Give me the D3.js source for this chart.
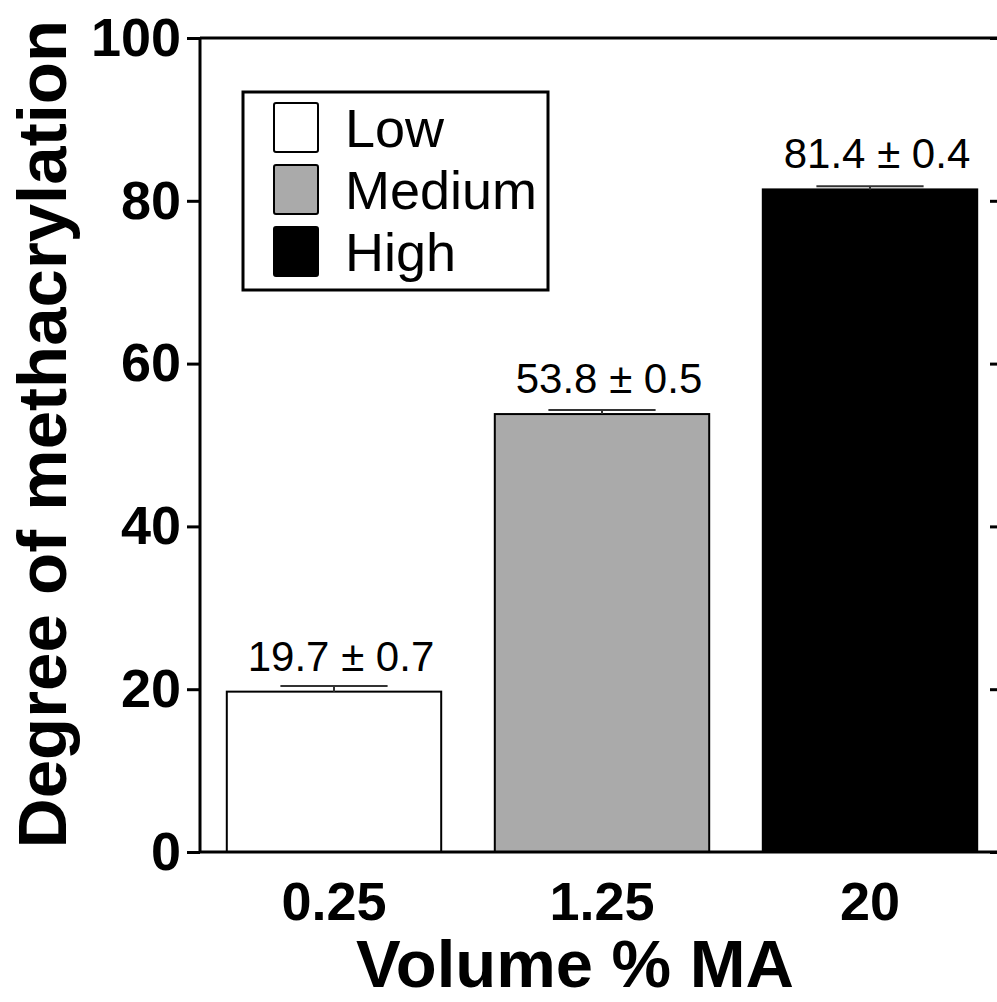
<!DOCTYPE html>
<html>
<head>
<meta charset="utf-8">
<script src="https://cdn.jsdelivr.net/npm/d3@7"></script>
<style>
  body { margin: 0; background: #fff; }
  svg { display: block; font-family: "Liberation Sans", Arial, sans-serif; }
</style>
</head>
<body>
<script>
// data
const categories = ["0.25", "1.25", "20"];
const levels = ["Low", "Medium", "High"];
const values = [19.7, 53.8, 81.4];
const errors = [0.7, 0.5, 0.4];
const fills = ["#ffffff", "#aaaaaa", "#000000"];
const yTicks = [0, 20, 40, 60, 80, 100];

const width = 997;
const height = 1002;

const svg = d3.select("body").append("svg")
  .attr("width", width)
  .attr("height", height);

const x = d3.scaleBand()
  .domain(categories)
  .range([200, 1004])
  .paddingInner(0.2)
  .paddingOuter(0.1);

const y = d3.scaleLinear()
  .domain([0, 100])
  .range([852, 38]);

// bars
svg.selectAll("rect.bar")
  .data(values)
  .enter().append("rect")
  .attr("class", "bar")
  .attr("x", (d, i) => x(categories[i]))
  .attr("width", x.bandwidth())
  .attr("y", d => y(d))
  .attr("height", d => y(0) - y(d))
  .attr("fill", (d, i) => fills[i])
  .attr("stroke", "#000")
  .attr("stroke-width", 2);

// error bars (upper half only shows)
const capHalf = x.bandwidth() / 4;
const eb = svg.selectAll("g.err")
  .data(values)
  .enter().append("g")
  .attr("class", "err")
  .attr("stroke", "#333")
  .attr("stroke-width", 2);
eb.append("line")
  .attr("x1", (d, i) => x(categories[i]) + x.bandwidth() / 2)
  .attr("x2", (d, i) => x(categories[i]) + x.bandwidth() / 2)
  .attr("y1", d => y(d))
  .attr("y2", (d, i) => y(d + errors[i]));
eb.append("line")
  .attr("x1", (d, i) => x(categories[i]) + x.bandwidth() / 2 - capHalf)
  .attr("x2", (d, i) => x(categories[i]) + x.bandwidth() / 2 + capHalf)
  .attr("y1", (d, i) => y(d + errors[i]))
  .attr("y2", (d, i) => y(d + errors[i]));

// value labels
svg.selectAll("text.val")
  .data(values)
  .enter().append("text")
  .attr("class", "val")
  .attr("x", (d, i) => x(categories[i]) + x.bandwidth() / 2 + 7)
  .attr("y", d => y(d) - 21)
  .attr("text-anchor", "middle")
  .attr("font-size", 42)
  .text((d, i) => d.toFixed(1) + " \u00b1 " + errors[i].toFixed(1));

// frame
const frame = svg.append("g")
  .attr("fill", "none")
  .attr("stroke", "#000")
  .attr("stroke-width", 3);
frame.append("line").attr("x1", 200).attr("x2", width + 10).attr("y1", y(100)).attr("y2", y(100));
frame.append("line").attr("x1", 200).attr("x2", width + 10).attr("y1", y(0)).attr("y2", y(0));

// left axis
const yAxis = svg.append("g")
  .attr("transform", "translate(200,0)")
  .call(d3.axisLeft(y).tickValues(yTicks).tickSize(13).tickPadding(6));
yAxis.select(".domain").attr("stroke-width", 3).attr("d", `M0,${y(100)}V${y(0)}`);
yAxis.selectAll(".tick line").attr("stroke-width", 3);
yAxis.selectAll(".tick text")
  .attr("font-size", 54)
  .attr("font-weight", "bold")
  .attr("font-family", "Liberation Sans, Arial, sans-serif")
  .attr("fill", "#000");

// right axis (cut off by the image edge)
const yAxisR = svg.append("g")
  .attr("transform", "translate(1003,0)")
  .call(d3.axisRight(y).tickValues(yTicks).tickSize(-13).tickFormat(""));
yAxisR.select(".domain").attr("stroke-width", 3);
yAxisR.selectAll(".tick line").attr("stroke-width", 3);

// x tick labels
svg.selectAll("text.xlab")
  .data(categories)
  .enter().append("text")
  .attr("class", "xlab")
  .attr("x", d => x(d) + x.bandwidth() / 2)
  .attr("y", 920)
  .attr("text-anchor", "middle")
  .attr("font-size", 54)
  .attr("font-weight", "bold")
  .text(d => d);

// axis titles
svg.append("text")
  .attr("x", 575)
  .attr("y", 987)
  .attr("text-anchor", "middle")
  .attr("font-size", 67)
  .attr("font-weight", "bold")
  .text("Volume % MA");

svg.append("text")
  .attr("transform", "translate(66,434) rotate(-90)")
  .attr("text-anchor", "middle")
  .attr("font-size", 69)
  .attr("font-weight", "bold")
  .text("Degree of methacrylation");

// legend
const legend = svg.append("g");
legend.append("rect")
  .attr("x", 243).attr("y", 92)
  .attr("width", 305).attr("height", 198)
  .attr("fill", "#fff")
  .attr("stroke", "#000")
  .attr("stroke-width", 3);
const rows = legend.selectAll("g.row")
  .data(levels)
  .enter().append("g")
  .attr("class", "row")
  .attr("transform", (d, i) => `translate(0,${i * 62})`);
rows.append("rect")
  .attr("x", 274).attr("y", 103)
  .attr("width", 44).attr("height", 49)
  .attr("rx", 2)
  .attr("fill", (d, i) => fills[i])
  .attr("stroke", "#000")
  .attr("stroke-width", 2);
rows.append("text")
  .attr("x", 345).attr("y", 147)
  .attr("font-size", 54)
  .text(d => d);
</script>
</body>
</html>
